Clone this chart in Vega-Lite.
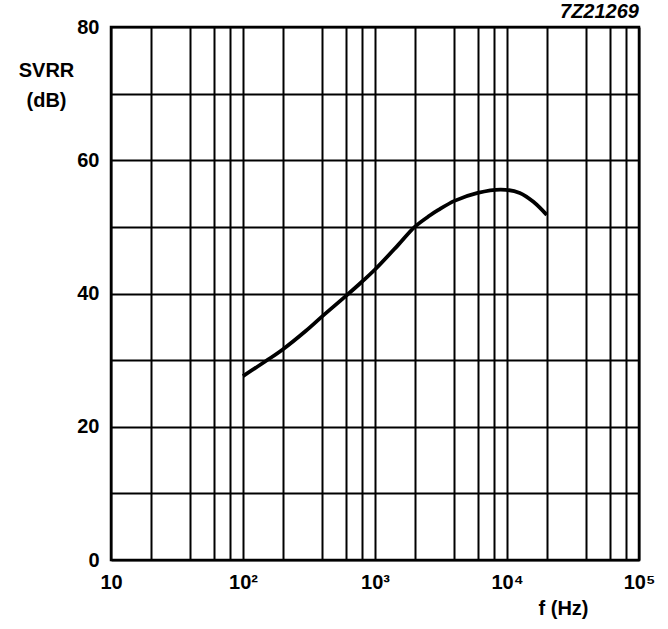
{
  "$schema": "https://vega.github.io/schema/vega-lite/v6.json",
  "width": 528,
  "height": 533,
  "autosize": {"type": "none"},
  "padding": {"left": 111, "top": 27, "right": 29, "bottom": 69},
  "background": "white",
  "title": {
    "text": "7Z21269",
    "anchor": "end",
    "frame": "group",
    "font": "Liberation Sans",
    "fontSize": 20,
    "fontWeight": "bold",
    "fontStyle": "italic",
    "color": "black",
    "offset": 6,
    "dy": 11
  },
  "data": {
    "values": [
      {"f": 100, "svrr": 27.6},
      {"f": 150, "svrr": 29.9},
      {"f": 200, "svrr": 31.6},
      {"f": 300, "svrr": 34.4},
      {"f": 400, "svrr": 36.6},
      {"f": 600, "svrr": 39.6},
      {"f": 800, "svrr": 41.8},
      {"f": 1000, "svrr": 43.6},
      {"f": 1500, "svrr": 47.3},
      {"f": 2000, "svrr": 50.0},
      {"f": 2600, "svrr": 51.7},
      {"f": 3000, "svrr": 52.5},
      {"f": 4000, "svrr": 53.9},
      {"f": 6000, "svrr": 55.1},
      {"f": 9000, "svrr": 55.6},
      {"f": 12500, "svrr": 55.1},
      {"f": 16000, "svrr": 53.7},
      {"f": 20000, "svrr": 51.8}
    ]
  },
  "mark": {"type": "line", "color": "black", "strokeWidth": 3.8, "interpolate": "catmull-rom", "clip": true},
  "encoding": {
    "x": {
      "field": "f",
      "type": "quantitative",
      "scale": {"type": "log", "domain": [10, 100000], "nice": false},
      "axis": {
        "values": [10, 20, 40, 60, 80, 100, 200, 400, 600, 800, 1000, 2000, 4000, 6000, 8000, 10000, 20000, 40000, 60000, 80000, 100000],
        "labelExpr": "datum.value == 10 ? '10' : datum.value == 100 ? '10²' : datum.value == 1000 ? '10³' : datum.value == 10000 ? '10⁴' : datum.value == 100000 ? '10⁵' : ''",
        "labelOverlap": false,
        "labelFlush": false,
        "labelPadding": 12,
        "title": "f (Hz)",
        "titleX": 452,
        "titleY": 48,
        "titleAlign": "center",
        "titleBaseline": "middle"
      }
    },
    "y": {
      "field": "svrr",
      "type": "quantitative",
      "scale": {"domain": [0, 80], "nice": false},
      "axis": {
        "values": [0, 10, 20, 30, 40, 50, 60, 70, 80],
        "labelExpr": "datum.value % 20 == 0 ? datum.label : ''",
        "labelOverlap": false,
        "labelFlush": false,
        "labelPadding": 12,
        "title": ["SVRR", "(dB)"],
        "titleAngle": 0,
        "titleAlign": "center",
        "titleBaseline": "top",
        "titleX": -65,
        "titleY": 33,
        "titleLineHeight": 30
      }
    }
  },
  "config": {
    "view": {"stroke": "black", "strokeWidth": 2.5},
    "axis": {
      "grid": true,
      "gridColor": "black",
      "gridOpacity": 1,
      "gridWidth": 2,
      "domain": false,
      "ticks": false,
      "tickSize": 0,
      "labelFont": "Liberation Sans",
      "labelFontSize": 20,
      "labelFontWeight": "bold",
      "labelColor": "black",
      "titleFont": "Liberation Sans",
      "titleFontSize": 20,
      "titleFontWeight": "bold",
      "titleColor": "black"
    }
  }
}
